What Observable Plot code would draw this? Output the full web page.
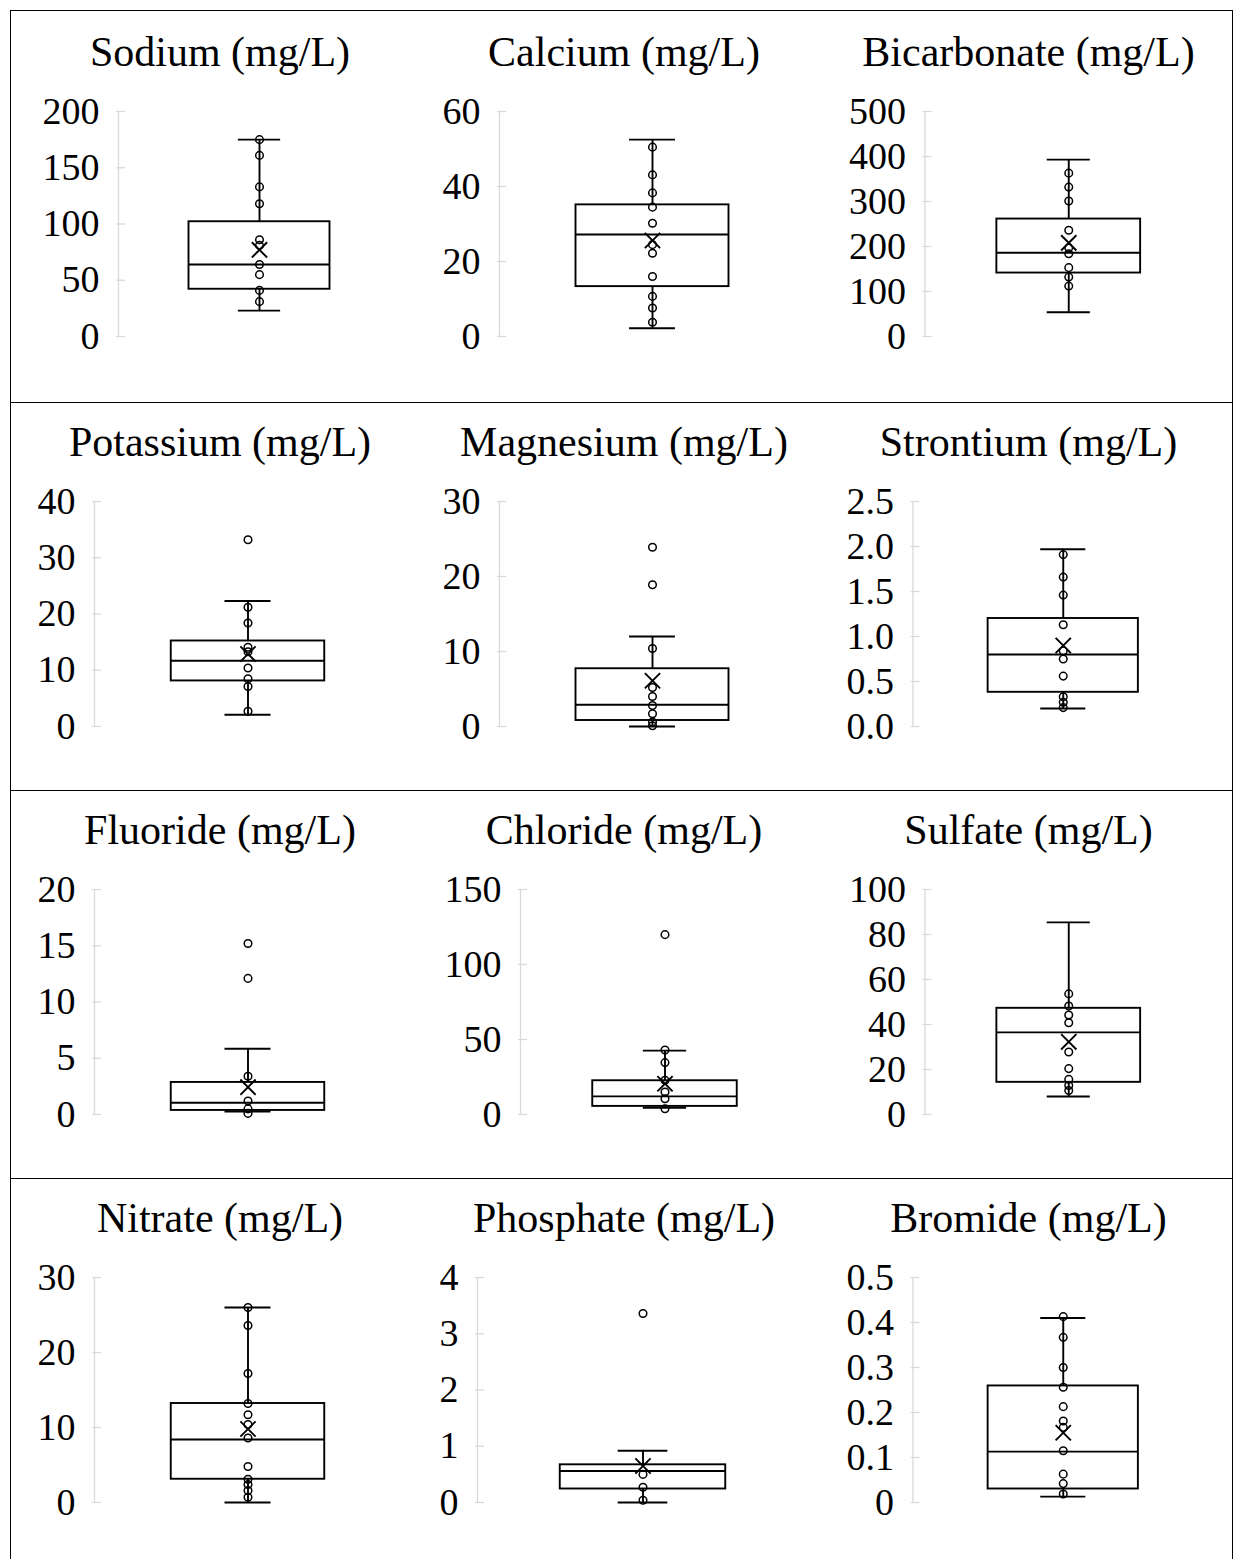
<!DOCTYPE html>
<html>
<head>
<meta charset="utf-8">
<script src="https://cdn.jsdelivr.net/npm/d3@7"></script>
<script src="https://cdn.jsdelivr.net/npm/@observablehq/plot@0.6"></script>
<style>
  html, body { margin: 0; padding: 0; background: #fff; overflow: hidden; }
  #frame { position: absolute; left: 10px; top: 10px; width: 1223px; height: 1580px;
           border-left: 1.5px solid #000; border-top: 1.5px solid #000; border-right: 1.5px solid #000;
           box-sizing: border-box; }
  .sep { position: absolute; left: 10px; width: 1223px; height: 0; border-top: 1.5px solid #000; }
  .panel { position: absolute; width: 404px; height: 388px; }
  .title { position: absolute; left: 0; top: 15px; width: 404px; text-align: center;
           font: 42px/48px "Liberation Serif", "Times New Roman", serif; color: #000; white-space: nowrap; }
  .panel svg { position: absolute; left: 0; top: 0; }
</style>
</head>
<body>
<div id="frame"></div>
<div id="root"></div>
<script>
// Major ions in groundwater samples, one box plot per analyte (mg/L)
const analytes = ["Sodium", "Calcium", "Bicarbonate",
                  "Potassium", "Magnesium", "Strontium",
                  "Fluoride", "Chloride", "Sulfate",
                  "Nitrate", "Phosphate", "Bromide"];
const unit = "mg/L";

// y-axis extent and tick labels per analyte
const yMax = [200, 60, 500, 40, 30, 2.5, 20, 150, 100, 30, 4, 0.5];
const yTicks = [
  [0, 50, 100, 150, 200], [0, 20, 40, 60], [0, 100, 200, 300, 400, 500],
  [0, 10, 20, 30, 40], [0, 10, 20, 30], [0, 0.5, 1, 1.5, 2, 2.5],
  [0, 5, 10, 15, 20], [0, 50, 100, 150], [0, 20, 40, 60, 80, 100],
  [0, 10, 20, 30], [0, 1, 2, 3, 4], [0, 0.1, 0.2, 0.3, 0.4, 0.5]
];
const yTickLabels = [
  ["0", "50", "100", "150", "200"], ["0", "20", "40", "60"], ["0", "100", "200", "300", "400", "500"],
  ["0", "10", "20", "30", "40"], ["0", "10", "20", "30"], ["0.0", "0.5", "1.0", "1.5", "2.0", "2.5"],
  ["0", "5", "10", "15", "20"], ["0", "50", "100", "150"], ["0", "20", "40", "60", "80", "100"],
  ["0", "10", "20", "30"], ["0", "1", "2", "3", "4"], ["0", "0.1", "0.2", "0.3", "0.4", "0.5"]
];

// box statistics per analyte
const whiskerLow  = [23,  2.2, 54,  2.1, 0,   0.2,  0.27, 4.5,  8,    0,   0,    0.013];
const quartile1   = [42,  13.3, 141, 8.1, 0.8, 0.38, 0.36, 5.4,  14.3, 3.1, 0.24, 0.03];
const median      = [64,  27.2, 186, 11.7, 2.9, 0.8, 1.04, 12.1, 36.5, 8.4, 0.56, 0.113];
const quartile3   = [102, 35.1, 261, 15.2, 7.7, 1.2, 2.85, 22.5, 47.2, 13.2, 0.67, 0.259];
const whiskerHigh = [175, 52.5, 393, 22.3, 12,  1.97, 5.85, 42.6, 85.4, 26,  0.92, 0.41];
const mean        = [77,  25.6, 208, 12.9, 6.1, 0.9,  2.43, 20.5, 32.3, 9.8, 0.65, 0.155];

// individual sample values
const sodiumPoints      = [175, 161, 133, 118, 86, 81, 64, 55, 41, 31];
const calciumPoints     = [50.5, 43.1, 38.3, 34.5, 30.2, 24.5, 22.2, 16, 10.7, 7.6, 3.8];
const bicarbonatePoints = [363, 332, 301, 236, 197, 184, 153, 132, 112];
const potassiumPoints   = [33.2, 21.2, 18.4, 14.1, 13.3, 10.4, 8.5, 7.1, 2.7];
const magnesiumPoints   = [23.9, 18.9, 10.4, 5.2, 4.0, 2.8, 1.7, 0.6, 0.1];
const strontiumPoints   = [1.91, 1.66, 1.46, 1.13, 0.84, 0.75, 0.56, 0.33, 0.27, 0.21];
const fluoridePoints    = [15.2, 12.1, 3.4, 1.2, 0.5, 0.1];
const chloridePoints    = [119.9, 43, 34.6, 22.8, 15, 10.5, 3.8];
const sulfatePoints     = [53.6, 48.2, 44.2, 40.8, 27.8, 20.4, 15.6, 12.9, 10.7];
const nitratePoints     = [26, 23.6, 17.2, 13.2, 11.7, 10.4, 8.6, 4.8, 3.1, 2.4, 1.6, 0.7];
const phosphatePoints   = [3.36, 0.5, 0.27, 0.04];
const bromidePoints     = [0.413, 0.367, 0.3, 0.256, 0.213, 0.181, 0.167, 0.115, 0.063, 0.042, 0.019];

const points = [sodiumPoints, calciumPoints, bicarbonatePoints,
                potassiumPoints, magnesiumPoints, strontiumPoints,
                fluoridePoints, chloridePoints, sulfatePoints,
                nitratePoints, phosphatePoints, bromidePoints];

// grid layout
const colLeft = [18, 422, 826.5];
const rowTop = [13, 403, 791, 1179];
const separators = [403, 791, 1179];
const marginLeft  = [100, 77, 97.5, 76, 77, 85.5, 76, 98, 97.5, 76, 55, 85.5];
const marginRight = [22, 21, 19, 21, 21, 18, 21, 17, 19, 21, 18, 18];
const W = 404, AXIS_TOP = 98, AXIS_H = 225, MB = 40;
const FONT = '"Liberation Serif", "Times New Roman", serif';

const root = document.getElementById("root");
for (const y of separators) {
  const s = document.createElement("div");
  s.className = "sep";
  s.style.top = (y - 0.75) + "px";
  root.appendChild(s);
}

analytes.forEach((name, i) => {
  const row = Math.floor(i / 3), col = i % 3;
  const div = document.createElement("div");
  div.className = "panel";
  div.style.left = colLeft[col] + "px";
  div.style.top = rowTop[row] + "px";

  const ml = marginLeft[i], mr = marginRight[i];
  const plotW = W - ml - mr;
  const ticks = yTicks[i], labels = yTickLabels[i];
  const stat = {lo: whiskerLow[i], q1: quartile1[i], med: median[i], q3: quartile3[i], hi: whiskerHigh[i], mean: mean[i]};
  const line = {stroke: "#000", strokeWidth: 1.9};

  const chart = Plot.plot({
    width: W,
    height: AXIS_TOP + AXIS_H + MB,
    marginLeft: ml, marginRight: mr, marginTop: AXIS_TOP, marginBottom: MB,
    style: {fontFamily: FONT, fontSize: "38px", color: "#000", background: "transparent", overflow: "visible"},
    x: {domain: [0, 1], axis: null},
    y: {
      domain: [0, yMax[i]],
      ticks: ticks,
      tickFormat: d => labels[ticks.indexOf(d)],
      tickSize: 0,
      tickPadding: 19,
      label: null
    },
    marks: [
      // light axis line with short inward ticks
      Plot.ruleX([0], {y1: 0, y2: yMax[i], stroke: "#d9d9d9", strokeWidth: 1.3}),
      Plot.ruleY(ticks, {x1: -2 / plotW, x2: 7 / plotW, stroke: "#d9d9d9", strokeWidth: 1.3}),
      // whiskers and caps
      Plot.ruleX([stat], {x: 0.5, y1: "lo", y2: "q1", ...line}),
      Plot.ruleX([stat], {x: 0.5, y1: "q3", y2: "hi", ...line}),
      Plot.ruleY([stat], {y: "lo", x1: 0.425, x2: 0.575, ...line}),
      Plot.ruleY([stat], {y: "hi", x1: 0.425, x2: 0.575, ...line}),
      // interquartile box and median
      Plot.rect([stat], {x1: 0.25, x2: 0.75, y1: "q1", y2: "q3", fill: "none", ...line}),
      Plot.ruleY([stat], {y: "med", x1: 0.25, x2: 0.75, ...line}),
      // samples
      Plot.dot(points[i], {x: 0.5, y: d => d, r: 3.8, fill: "none", stroke: "#000", strokeWidth: 1.5}),
      // mean marker
      Plot.dot([stat], {x: 0.5, y: "mean", symbol: "times", r: 7, stroke: "#000", strokeWidth: 1.9})
    ]
  });

  const title = document.createElement("div");
  title.className = "title";
  title.textContent = `${name} (${unit})`;
  div.appendChild(chart);
  div.appendChild(title);
  root.appendChild(div);
});
</script>
</body>
</html>
